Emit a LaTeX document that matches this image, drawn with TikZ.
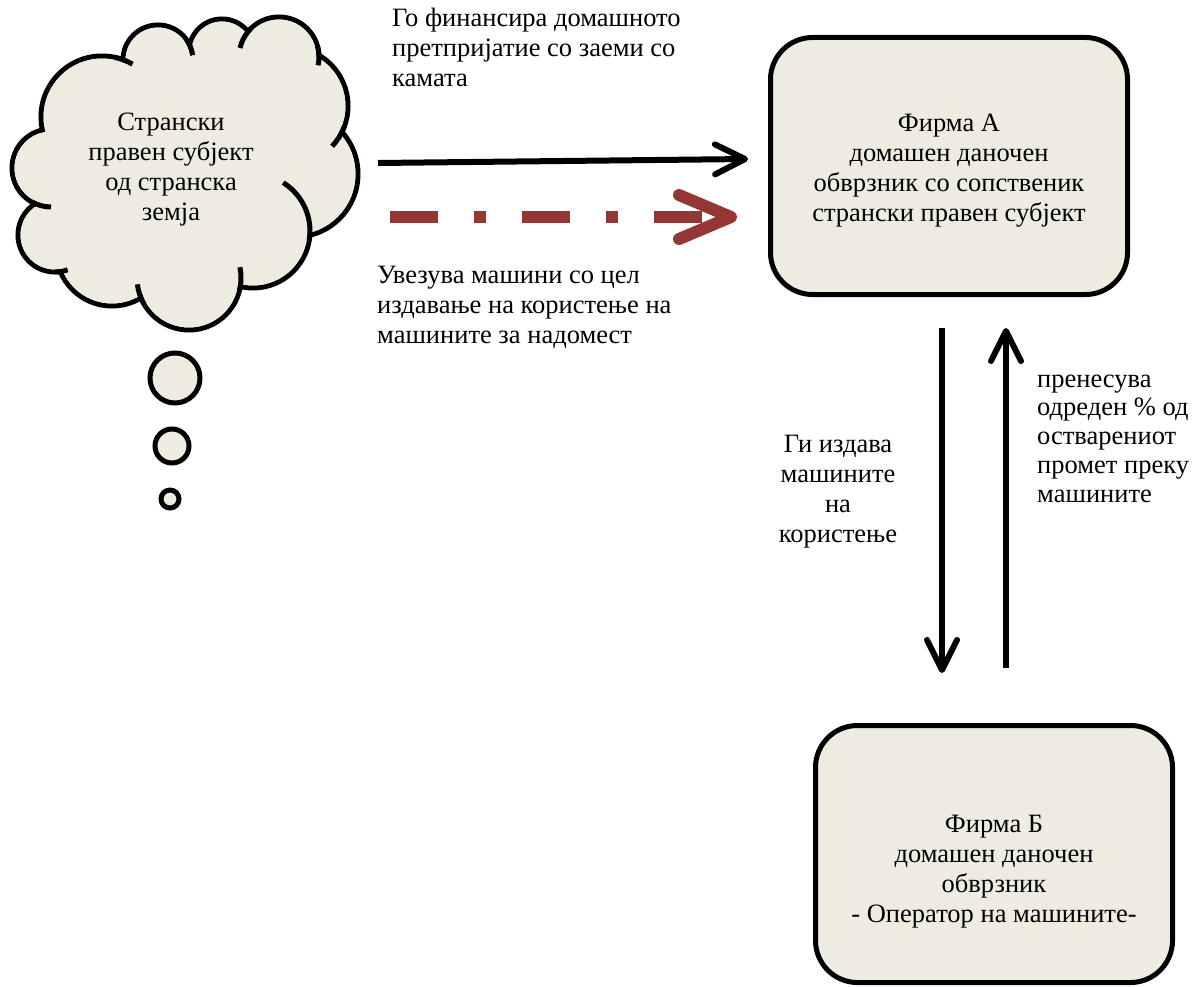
\documentclass[tikz,border=0pt]{standalone}
\usepackage{fontspec}
\setmainfont{Liberation Serif}
\usetikzlibrary{arrows.meta}
\definecolor{paper}{HTML}{EEECE1}
\definecolor{leasered}{HTML}{943634}
\tikzset{
  every node/.style={inner sep=0pt, font=\fontsize{26.5}{30}\selectfont},
  firm/.style={draw, line width=5pt, fill=paper, rounded corners=42pt,
    minimum width=357pt, minimum height=257pt, align=center, text depth=0pt},
  caption/.style={align=left, anchor=base west},
  flow/.style={line width=6pt, -{Straight Barb[length=30pt,width=30pt,round]}},
  leaseflow/.style={draw=leasered, line width=12pt,
    dash pattern=on 48pt off 36pt on 12pt off 36pt,
    -{Straight Barb[length=52pt,width=44pt,round]}},
  puff/.style={line width=5pt},
}
\begin{document}
\begin{tikzpicture}[x=1pt,y=-1pt]
\useasboundingbox (0,0) rectangle (1204,987);

% --- thought cloud: union of puffs ---
\foreach \cx/\cy/\r in {102/117/61, 158/60/35, 222/52/33, 279/57/40, 289/106/59,
    295/174/63, 253/231/57, 189/278/52, 112/250/56, 55/235/37, 51/168/39}
  \draw[puff] (\cx,\cy) circle[radius=\r];
\fill[paper] (102,117) -- (158,60) -- (222,52) -- (279,57) -- (289,106) -- (295,174)
  -- (253,231) -- (189,278) -- (112,250) -- (55,235) -- (51,168) -- cycle;
\foreach \cx/\cy/\r in {102/117/61, 158/60/35, 222/52/33, 279/57/40, 289/106/59,
    295/174/63, 253/231/57, 189/278/52, 112/250/56, 55/235/37, 51/168/39}{
  \pgfmathsetmacro\rr{\r-2.5}
  \fill[paper] (\cx,\cy) circle[radius=\rr];
}
% puff arcs that run on inside the cloud
\foreach \cx/\cy/\r/\a/\b in {102/117/61/-78/-60, 158/60/35/-35/-8, 279/57/40/225/193,
    279/57/40/-15/12, 289/106/59/20/43, 253/231/57/10/-58, 189/278/52/15/-12,
    189/278/52/150/173, 55/235/37/90/70, 51/168/39/120/90}
  \draw[puff] ([shift={(\cx,\cy)}]\a:\r) arc[start angle=\a, end angle=\b, radius=\r];

% thought bubbles
\draw[puff, fill=paper] (175,378) circle[radius=25];
\draw[puff, fill=paper] (172,446) circle[radius=17];
\draw[puff, fill=paper] (170,499) circle[radius=9];

\node[align=center, anchor=base] (src) at (171,221)
  {Странски\\правен субјект\\од странска\\земја};

% --- firms ---
\node[firm, text height=112pt] (A) at (949,166)
  {Фирма А\\домашен даночен\\обврзник со сопственик\\странски правен субјект};
\node[firm, text height=136pt] (B) at (994,854)
  {Фирма Б\\домашен даночен\\обврзник\\- Оператор на машините-};

% --- flows ---
\coordinate (loanS) at (378,163);
\coordinate (loanE) at (748,159);
\coordinate (machS) at (390,217);
\coordinate (machE) at (737,217);
\coordinate (rentS) at (942,328);
\coordinate (rentE) at (942,673);
\coordinate (feeS) at (1006,668);
\coordinate (feeE) at (1006,328);

\draw[flow] (loanS) -- (loanE);
\draw[leaseflow] (machS) -- (machE);
\draw[flow] (rentS) -- (rentE);
\draw[flow] (feeS) -- (feeE);

% --- captions (anchored at the baseline of their last line) ---
\node[caption] (capLoan) at (392,87)
  {Го финансира домашното\\претпријатие со заеми со\\камата};
\node[caption] (capMach) at (377,343)
  {Увезува машини со цел\\издавање на користење на\\машините за надомест};
\node[align=center, anchor=base] (capRent) at (838,542)
  {Ги издава\\машините\\на\\користење};
\node[caption, font=\fontsize{26.5}{28.75}\selectfont] (capFee) at (1037,502)
  {пренесува\\одреден \% од\\остварениот\\промет преку\\машините};
\end{tikzpicture}
\end{document}
